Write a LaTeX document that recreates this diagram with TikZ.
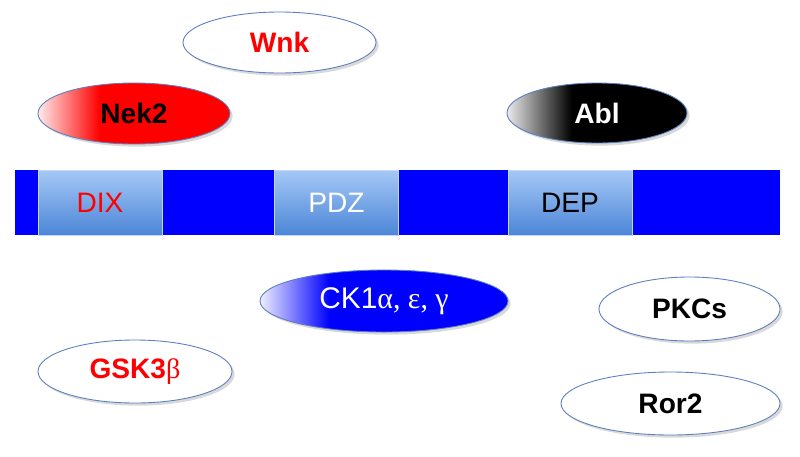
\documentclass[tikz,border=0pt]{standalone}
\usepackage{fontspec}
\setmainfont{Liberation Sans}
\newfontfamily\grk{Liberation Serif}
\usepackage{xcolor}
\usepackage{tikz}
\usetikzlibrary{shapes.geometric}
\usetikzlibrary{shadows}
\usetikzlibrary{positioning}
\definecolor{rim}{HTML}{5B7FBF}
\definecolor{domtop}{HTML}{A6C8F7}
\definecolor{dombot}{HTML}{4B86D6}
\pgfdeclarehorizontalshading{nekfade}{100bp}{color(0bp)=(red!8); color(25bp)=(red!8); color(41bp)=(red); color(100bp)=(red)}
\pgfdeclarehorizontalshading{ablfade}{100bp}{color(0bp)=(black!8); color(25bp)=(black!8); color(43bp)=(black); color(100bp)=(black)}
\pgfdeclarehorizontalshading{ckfade}{100bp}{color(0bp)=(blue!6); color(25bp)=(blue!6); color(39bp)=(blue); color(100bp)=(blue)}
\tikzset{
  kinase/.style = {ellipse, draw=rim, line width=0.5pt, inner sep=0, fill=white,
    font=\fontsize{16}{18}\selectfont\bfseries,
    drop shadow={shadow xshift=1.5pt, shadow yshift=-1.5pt, opacity=0.3}},
  dombox/.style = {rectangle, draw=domtop!70!white, line width=0.3pt, inner sep=0,
    top color=domtop, bottom color=dombot, minimum width=2.48cm, minimum height=1.3cm,
    font=\fontsize{16}{18}\selectfont}
}

\begin{document}
\begin{tikzpicture}
\useasboundingbox (0,0) rectangle (16,-9.12);
% protein bar and its domains
\node [rectangle, fill=blue, draw=none, minimum width=15.3cm, minimum height=1.3cm, inner sep=0] (bar) at (7.95,-4.05) {};
\node [dombox, text=red] (DIX) at (2.00,-4.05) {DIX};
\node [dombox, text=white] (PDZ) at (6.73,-4.05) {PDZ};
\node [dombox, text=black] (DEP) at (11.40,-4.05) {DEP};
% kinases above
\node [kinase, text=red, minimum width=3.86cm, minimum height=1.22cm] (Wnk) at (5.59,-0.85) {Wnk};
\node [kinase, shading=nekfade, text=black, minimum width=3.84cm, minimum height=1.22cm] (Nek2) at (2.68,-2.27) {Nek2};
\node [kinase, shading=ablfade, text=white, minimum width=3.60cm, minimum height=1.20cm] (Abl) at (11.94,-2.26) {Abl};
% kinases below
\node [kinase, shading=ckfade, text=white, font=\fontsize{17}{19}\selectfont, minimum width=4.96cm, minimum height=1.24cm] (CK1) at (7.68,-6.02) {CK1{\grk α, ε, γ}};
\node [kinase, text=red, minimum width=3.88cm, minimum height=1.26cm] (GSK3) at (2.70,-7.43) {GSK3{\grk\mdseries β}};
\node [kinase, text=black, minimum width=3.62cm, minimum height=1.28cm] (PKC) at (13.79,-6.18) {PKCs};
\node [kinase, text=black, minimum width=4.38cm, minimum height=1.26cm] (Ror2) at (13.41,-8.07) {Ror2};
\end{tikzpicture}
\end{document}
